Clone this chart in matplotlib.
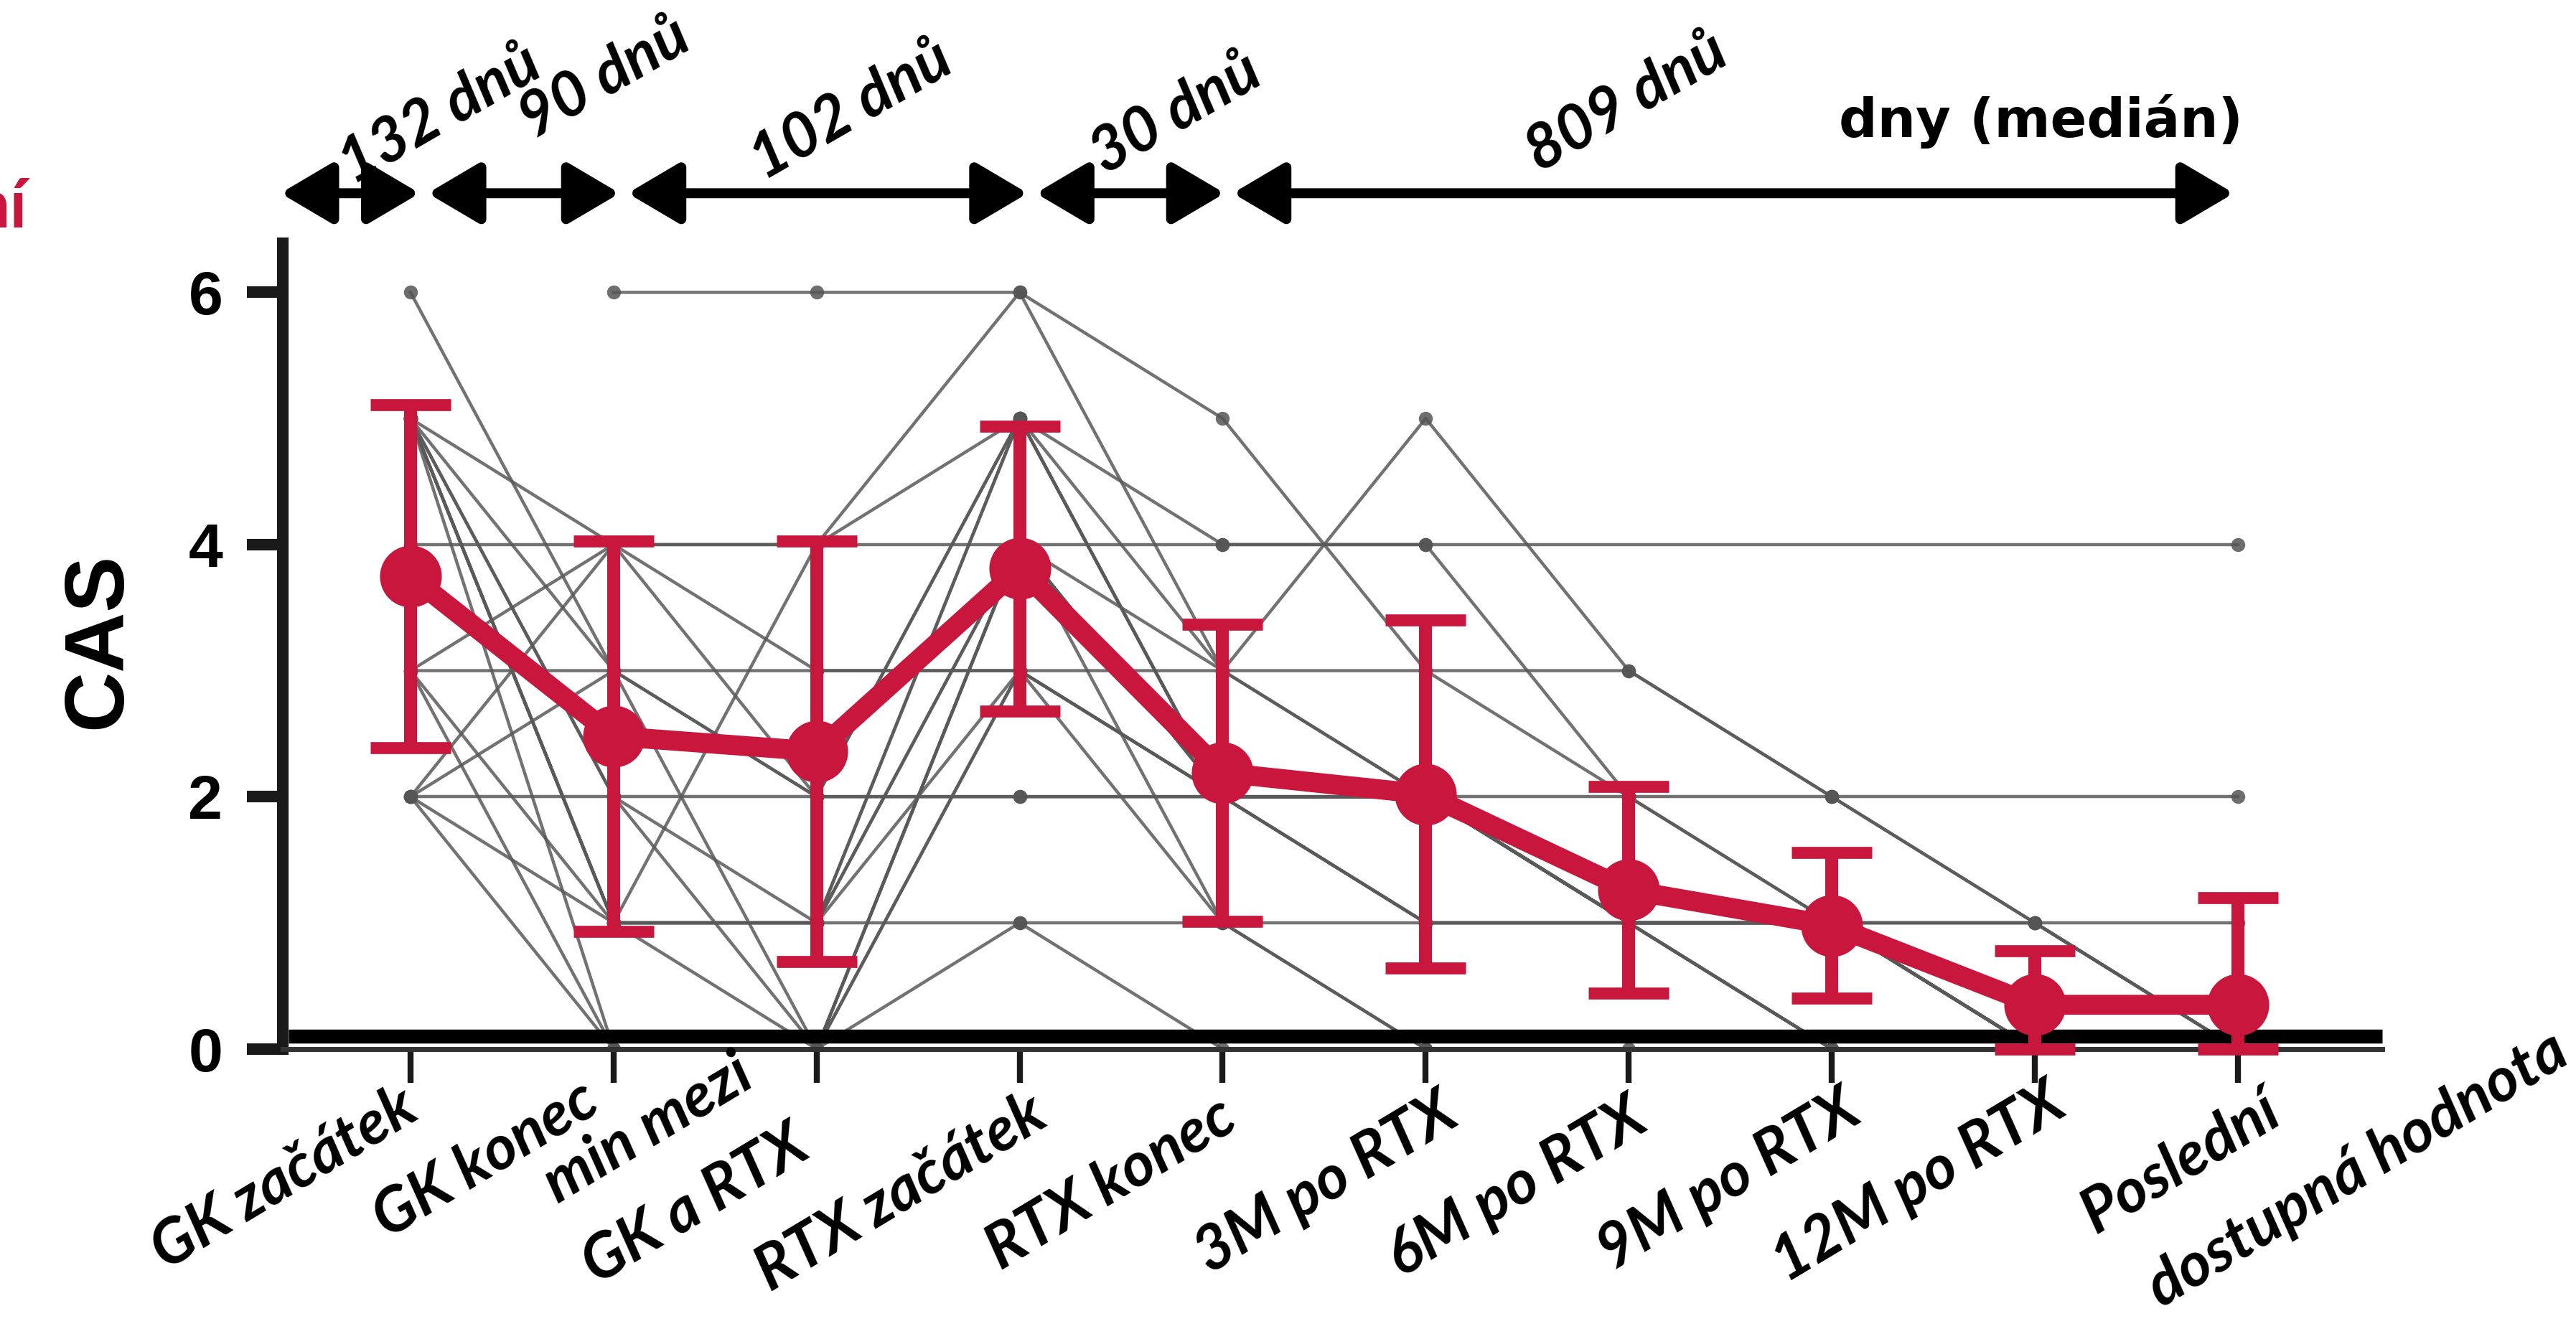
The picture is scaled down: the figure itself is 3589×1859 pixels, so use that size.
import numpy as np
import matplotlib.pyplot as plt
from matplotlib.patches import FancyArrowPatch

nan = np.nan

timepoints = ['GK začátek', 'GK konec', 'min mezi\nGK a RTX', 'RTX začátek', 'RTX konec',
              '3M po RTX', '6M po RTX', '9M po RTX', '12M po RTX',
              'Poslední\ndostupná hodnota']

# mean CAS and SD per timepoint (red)
cas_mean = [3.75, 2.48, 2.36, 3.81, 2.19, 2.02, 1.26, 0.98, 0.35, 0.35]
cas_sd = [1.36, 1.55, 1.67, 1.13, 1.18, 1.38, 0.82, 0.58, 0.43, 0.85]

# individual patients (grey), nan = missing value
patients = [
    [6, 3, 0, 3, 2, 2, 1, 1, 0, 0],
    [nan, 6, 6, 6, 5, 3, 2, 1, 0, 0],
    [4, 4, 4, 4, 4, 4, nan, nan, nan, 4],
    [3, 3, 3, 3, 3, 3, 3, 2, 1, 0],
    [2, 2, 2, 2, 2, 2, 2, 2, nan, 2],
    [nan, 1, 1, 1, 1, 1, 1, 1, 1, 1],
    [5, 4, 4, 6, 3, 5, 3, 2, 1, 0],
    [5, 1, 4, 5, 4, 4, 2, 1, 1, 0],
    [5, 1, 1, 5, 3, 2, 1, 1, 0, 0],
    [5, 1, 1, 4, 2, 2, 1, 0, 0, 0],
    [5, 0, 0, 4, 2, 2, 1, 1, 0, 0],
    [5, 2, 0, 4, 2, 1, 1, 0, 0, 0],
    [5, 1, 1, 3, 2, 2, 1, 1, 0, 0],
    [3, 4, 3, 3, 1, 0, nan, nan, nan, 0],
    [3, 1, 0, 4, 1, 0, 0, 0, 0, 0],
    [2, 4, 2, 2, 2, 2, 1, 1, 1, 0],
    [2, 1, 1, 5, 2, 2, 1, 1, 0, 0],
    [2, 0, 0, 1, 0, 0, nan, nan, nan, 0],
    [2, 3, 2, 5, 2, 1, 1, 0, 0, 0],
    [5, 3, 2, 5, 2, 2, 1, 0, 0, 0],
    [3, 0, 0, 3, 2, 1, 1, 1, 0, 0],
    [5, 2, 1, 4, 3, 2, 1, 1, 0, 0],
]

interval_labels = ['132 dnů', '90 dnů', '102 dnů', '30 dnů', '809 dnů']

red = '#C8163D'
grey = '#595959'

fig = plt.figure(figsize=(17.945, 9.295), dpi=200)
ax = fig.add_axes([0.1097, 0.2137, 0.9247 - 0.1097, 0.8177 - 0.2137])

x = np.arange(len(timepoints))

for row in patients:
    row = np.array(row, dtype=float)
    ok = ~np.isnan(row)
    ax.plot(x[ok], row[ok], color=grey, lw=1.6, alpha=0.85, marker='o',
            markersize=7, markerfacecolor='#555555', markeredgewidth=0, zorder=2)

mean = np.array(cas_mean)
sd = np.array(cas_sd)
low = np.clip(mean - sd, 0, None)
ax.errorbar(x, mean, yerr=[mean - low, sd], color=red, lw=10, marker='o',
            markersize=30, ecolor=red, elinewidth=6.5, capsize=20, capthick=6,
            zorder=5, clip_on=False)

ax.set_xlim(-0.63, 9.71)
ax.set_ylim(0, 6.39)
ax.set_yticks([0, 2, 4, 6])
ax.set_xticks(x)
ax.set_xticklabels([])
for lab in ax.get_yticklabels():
    lab.set_fontsize(31)
    lab.set_fontweight('bold')
    lab.set_family('Liberation Sans')

for s in ['top', 'right']:
    ax.spines[s].set_visible(False)
ax.spines['left'].set_linewidth(5.8)
ax.spines['left'].set_color('#1a1a1a')
ax.spines['bottom'].set_linewidth(2.5)
ax.spines['bottom'].set_color('#333333')
ax.tick_params(axis='y', length=18, width=5.8, pad=12, color='#1a1a1a')
ax.tick_params(axis='x', length=17, width=3, pad=10, color='#1a1a1a')
ax.plot([-0.6, 9.71], [0.1, 0.1], color='black', lw=7, solid_capstyle='butt',
        zorder=4, clip_on=False)

ax.set_ylabel('CAS', fontsize=42, fontweight='bold', family='Liberation Sans')
ax.yaxis.set_label_coords(-0.069, 0.507)

trans = ax.get_xaxis_transform()

# x labels, one text per line, anchored at the top-right end of each line
label_lines = ['GK začátek', 'GK konec', 'min mezi', 'GK a RTX', 'RTX začátek',
               'RTX konec', '3M po RTX', '6M po RTX', '9M po RTX', '12M po RTX',
               'Poslední', 'dostupná hodnota']
line_anchor = [(242, 656), (352, 652), (446, 636), (480, 680), (625, 660), (740, 662),
               (875, 660), (990, 663), (1120, 658), (1245, 654), (1376, 658), (1551, 622)]
for t, (px, py) in zip(label_lines, line_anchor):
    ax.text((px - 250) / 123.56, (638.5 - py) / 490.5, t, transform=trans,
            rotation=31, ha='right', va='top', rotation_mode='anchor',
            fontsize=31, fontweight='bold', fontstyle='italic', family='Lato',
            clip_on=False)

# interval arrows above the plot
spans = [(-0.66, 0.065), (0.065, 1.05), (1.05, 3.06), (3.06, 4.03), (4.03, 9.0)]
for a, b in spans:
    arr = FancyArrowPatch((a, 1.062), (b, 1.062), transform=trans,
                          arrowstyle='<|-|>,head_length=22,head_width=13',
                          mutation_scale=1, lw=5, color='black', clip_on=False)
    ax.add_patch(arr)

label_pos = [(0.146, 1.16), (0.955, 1.205), (2.17, 1.165), (3.77, 1.161), (5.99, 1.175)]
for t, (px, py) in zip(interval_labels, label_pos):
    ax.text(px, py, t, transform=trans, rotation=30, ha='center', va='center',
            fontsize=31, fontweight='bold', fontstyle='italic', family='Lato')
ax.text(8.03, 1.151, 'dny (medián)', transform=trans, ha='center', va='center',
        fontsize=27, fontweight='bold', family='DejaVu Sans')

fig.text(0.0105, 0.844, 'ní', ha='right', va='center', color=red,
         fontsize=34, fontweight='bold', family='Lato')

fig.savefig('out.png', dpi=200)
